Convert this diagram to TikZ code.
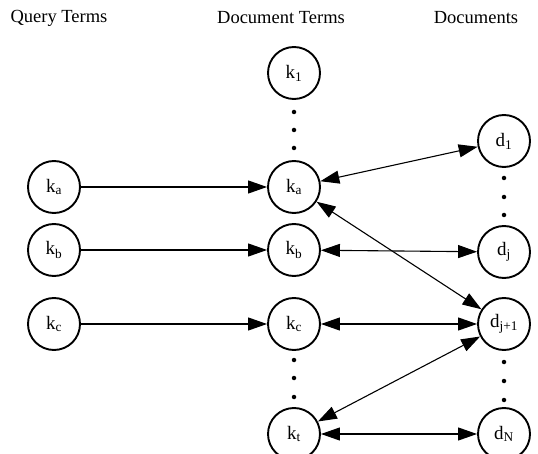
\documentclass[tikz,border=0pt]{standalone}
\usepackage{fontspec}
\setmainfont{Liberation Serif}
\usetikzlibrary{arrows.meta}
\begin{document}
\begin{tikzpicture}[x=1pt,y=-1pt,
  term/.style={circle,draw,line width=1.9pt,minimum size=52pt,inner sep=0pt,font=\fontsize{19}{19}\selectfont},
  hdr/.style={font=\fontsize{18.5}{20}\selectfont,inner sep=0pt},
  arr/.style={line width=1.1pt,-{Triangle[length=19pt,width=13pt]}},
  darr/.style={line width=1.1pt,{Triangle[length=19pt,width=13pt]}-{Triangle[length=19pt,width=13pt]}},
  dotc/.style={circle,fill,inner sep=0pt,minimum size=4.5pt}]
\useasboundingbox (0,0) rectangle (538,454);
% headers
\node[hdr] (h1) at (59,18) {Query Terms};
\node[hdr] (h2) at (281,18) {Document Terms};
\node[hdr] (h3) at (476,18) {Documents};
% query terms
\node[term] (qa) at (54,187) {k\textsubscript{a}};
\node[term] (qb) at (54,250) {k\textsubscript{b}};
\node[term] (qc) at (54,324) {k\textsubscript{c}};
% document terms
\node[term] (k1) at (294,73) {k\textsubscript{1}};
\node[term] (ka) at (294,187) {k\textsubscript{a}};
\node[term] (kb) at (294,250) {k\textsubscript{b}};
\node[term] (kc) at (294,324) {k\textsubscript{c}};
\node[term] (kt) at (294,434) {k\textsubscript{t}};
% documents
\node[term] (d1) at (504,141) {d\textsubscript{1}};
\node[term] (dj) at (504,252) {d\textsubscript{j}};
\node[term] (dj1) at (504,324) {d\textsubscript{j+1}};
\node[term] (dN) at (504,434) {d\textsubscript{N}};
% dots
\node[dotc] (p1) at (294,112) {};
\node[dotc] (p2) at (294,130) {};
\node[dotc] (p3) at (294,148) {};
\node[dotc] (p4) at (294,360) {};
\node[dotc] (p5) at (294,378) {};
\node[dotc] (p6) at (294,397) {};
\node[dotc] (p7) at (504,178) {};
\node[dotc] (p8) at (504,197) {};
\node[dotc] (p9) at (504,215) {};
\node[dotc] (p10) at (504,362) {};
\node[dotc] (p11) at (504,381) {};
\node[dotc] (p12) at (504,400) {};
% connectors
\draw[arr] (qa) -- (ka);
\draw[arr] (qb) -- (kb);
\draw[arr] (qc) -- (kc);
\draw[darr] (ka) -- (d1);
\draw[darr] (kb) -- (dj);
\draw[darr] (ka) -- (dj1);
\draw[darr] (kc) -- (dj1);
\draw[darr] (kt) -- (dj1);
\draw[darr] (kt) -- (dN);
\end{tikzpicture}
\end{document}
